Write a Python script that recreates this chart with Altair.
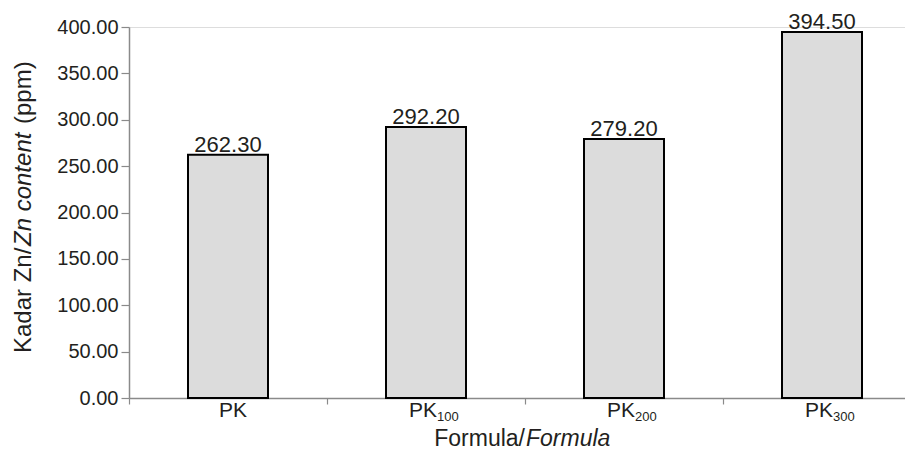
import altair as alt
import pandas as pd

# ---- data ----
categories = ["PK", "PK100", "PK200", "PK300"]
label_main = ["PK", "PK", "PK", "PK"]
label_sub = ["", "100", "200", "300"]
values = [262.30, 292.20, 279.20, 394.50]
y_ticks = [0, 50, 100, 150, 200, 250, 300, 350, 400]

x_title_parts = ["Formula/", "Formula"]
y_title_parts = ["Kadar Zn/", "Zn content", "(ppm)"]

df = pd.DataFrame({"cat": categories, "main": label_main, "sub": label_sub, "value": values})

FONT = "Liberation Sans"
TXT = "#231f20"
AX = "#8a8a8a"

x_enc = alt.X(
    "cat:N",
    sort=categories,
    scale=alt.Scale(range=[0, 792], paddingInner=0, paddingOuter=0),
    axis=alt.Axis(title=None, labels=False, tickBand="extent", ticks=True,
                  tickSize=6, tickColor=AX, domainColor=AX, domainWidth=1.5,
                  tickWidth=1.2, grid=False),
)
y_enc = alt.Y(
    "value:Q",
    scale=alt.Scale(domain=[0, 400], nice=False),
    axis=alt.Axis(title=None, values=y_ticks, format=".2f", tickSize=8,
                  labelPadding=3, labelFontSize=20, labelFont=FONT, labelColor=TXT,
                  tickColor=AX, domainColor=AX, domainWidth=1.5, tickWidth=1.2,
                  grid=False),
)

base = alt.Chart(df)

bars = base.mark_bar(size=80, fill="#dcdcdc", stroke="black", strokeWidth=2).encode(
    x=x_enc, y=y_enc
)

vals = base.mark_text(baseline="alphabetic", dy=-3, fontSize=22, font=FONT, color=TXT).encode(
    x=alt.X("cat:N", sort=categories),
    y=alt.Y("value:Q"),
    text=alt.Text("value:Q", format=".2f"),
)

lab_plain = base.transform_filter("datum.sub == ''").mark_text(
    baseline="alphabetic", align="center", dx=5, fontSize=21, font=FONT, color=TXT
).encode(x=alt.X("cat:N", sort=categories), y=alt.value(390), text="main:N")

lab_main = base.transform_filter("datum.sub != ''").mark_text(
    baseline="alphabetic", align="right", dx=11, fontSize=21, font=FONT, color=TXT
).encode(x=alt.X("cat:N", sort=categories), y=alt.value(390), text="main:N")

lab_sub = base.transform_filter("datum.sub != ''").mark_text(
    baseline="alphabetic", align="left", dx=11, fontSize=13, font=FONT, color=TXT
).encode(x=alt.X("cat:N", sort=categories), y=alt.value(394), text="sub:N")

# x title
xt1 = alt.Chart(pd.DataFrame({"t": [x_title_parts[0]]})).mark_text(
    align="right", baseline="alphabetic", fontSize=23, font=FONT, color=TXT
).encode(x=alt.value(396), y=alt.value(419), text="t:N")
xt2 = alt.Chart(pd.DataFrame({"t": [x_title_parts[1]]})).mark_text(
    align="left", baseline="alphabetic", fontSize=23, font=FONT, color=TXT, fontStyle="italic"
).encode(x=alt.value(397), y=alt.value(419), text="t:N")

# y title (rotated)
yt1 = alt.Chart(pd.DataFrame({"t": [y_title_parts[0]]})).mark_text(
    align="left", baseline="alphabetic", angle=270, fontSize=24, font=FONT, color=TXT
).encode(x=alt.value(-98), y=alt.value(326), text="t:N")
yt2 = alt.Chart(pd.DataFrame({"t": [y_title_parts[1]]})).mark_text(
    align="left", baseline="alphabetic", angle=270, fontSize=24, font=FONT, color=TXT,
    fontStyle="italic"
).encode(x=alt.value(-98), y=alt.value(219), text="t:N")
yt3 = alt.Chart(pd.DataFrame({"t": [y_title_parts[2]]})).mark_text(
    align="left", baseline="alphabetic", angle=270, fontSize=24, font=FONT, color=TXT
).encode(x=alt.value(-98), y=alt.value(97), text="t:N")

chart = alt.layer(bars, vals, lab_plain, lab_main, lab_sub, xt1, xt2, yt1, yt2, yt3).properties(
    width=776,
    height=371,
    autosize=alt.AutoSizeParams(type="none"),
    padding={"left": 121, "top": 19, "right": 0, "bottom": 53},
).configure_view(stroke=None).configure(background="white")

chart.save("out.html", embed_options={"renderer": "svg", "actions": False})
